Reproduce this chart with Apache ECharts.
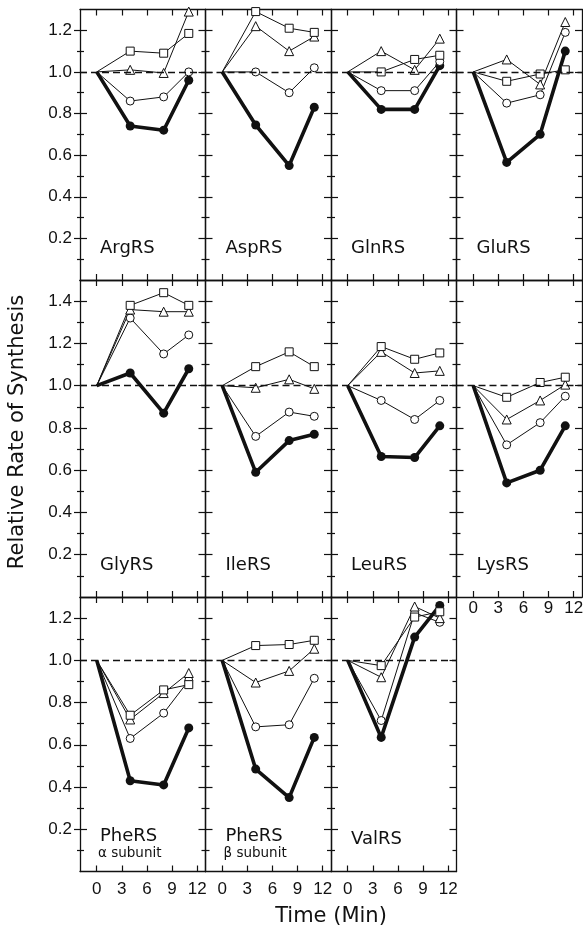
<!DOCTYPE html>
<html>
<head>
<meta charset="utf-8">
<script src="https://cdn.jsdelivr.net/npm/echarts@6/dist/echarts.min.js"></script>
<style>
    html, body { margin: 0; padding: 0; background: #fff; }
    #chart { width: 583px; height: 928px; }
</style>
</head>
<body>
<div id="chart"></div>
<script>
// sampling times (min), same for every panel
const times = [0, 4, 8, 11];
const panels = ['ArgRS', 'AspRS', 'GlnRS', 'GluRS', 'GlyRS', 'IleRS', 'LeuRS', 'LysRS', 'PheRS', 'PheRS', 'ValRS'];
const subLabels = ['', '', '', '', '', '', '', '', 'α subunit', 'β subunit', ''];

// one row per panel, values at the sampling times
const filledCircle = [
    [1.00, 0.74, 0.72, 0.96],
    [1.00, 0.745, 0.55, 0.83],
    [1.00, 0.82, 0.82, 1.03],
    [1.00, 0.565, 0.70, 1.10],
    [1.00, 1.06, 0.87, 1.08],
    [1.00, 0.59, 0.74, 0.77],
    [1.00, 0.665, 0.66, 0.81],
    [1.00, 0.54, 0.60, 0.81],
    [1.00, 0.43, 0.41, 0.68],
    [1.00, 0.485, 0.35, 0.635],
    [1.00, 0.635, 1.11, 1.26]
];
const openCircle = [
    [1.00, 0.86, 0.88, 1.00],
    [1.00, 1.00, 0.90, 1.02],
    [1.00, 0.91, 0.91, 1.05],
    [1.00, 0.85, 0.89, 1.19],
    [1.00, 1.32, 1.15, 1.24],
    [1.00, 0.76, 0.875, 0.855],
    [1.00, 0.93, 0.84, 0.93],
    [1.00, 0.72, 0.825, 0.95],
    [1.00, 0.63, 0.75, 0.905],
    [1.00, 0.685, 0.695, 0.915],
    [1.00, 0.715, 1.225, 1.18]
];
const openTriangle = [
    [1.00, 1.01, 0.995, 1.29],
    [1.00, 1.22, 1.10, 1.17],
    [1.00, 1.10, 1.01, 1.16],
    [1.00, 1.06, 0.94, 1.24],
    [1.00, 1.36, 1.35, 1.35],
    [1.00, 0.99, 1.03, 0.985],
    [1.00, 1.16, 1.06, 1.07],
    [1.00, 0.84, 0.93, 1.005],
    [1.00, 0.72, 0.845, 0.94],
    [1.00, 0.895, 0.95, 1.055],
    [1.00, 0.92, 1.255, 1.20]
];
const openSquare = [
    [1.00, 1.10, 1.09, 1.185],
    [1.00, 1.29, 1.21, 1.19],
    [1.00, 1.00, 1.06, 1.08],
    [1.00, 0.955, 0.99, 1.01],
    [1.00, 1.38, 1.44, 1.38],
    [1.00, 1.09, 1.16, 1.09],
    [1.00, 1.185, 1.125, 1.155],
    [1.00, 0.945, 1.015, 1.04],
    [1.00, 0.74, 0.86, 0.885],
    [1.00, 1.07, 1.075, 1.095],
    [1.00, 0.975, 1.205, 1.23]
];

const xTicks = [0, 3, 6, 9, 12];
const yMajorTicks = [0.2, 0.4, 0.6, 0.8, 1.0, 1.2, 1.4];
const yMinorTicks = [0.1, 0.3, 0.5, 0.7, 0.9, 1.1, 1.3];

// layout
const colLefts = [80, 205.5, 331, 456.5];
const colWidth = 125.5;
const rowTops = [9.5, 280, 597];
const rowBottoms = [280, 597, 871.5];
const rowMax = [1.3, 1.5, 1.3];
const INK = '#111';

const chart = echarts.init(document.getElementById('chart'));

let grids = [], xAxes = [], yAxes = [], series = [], graphics = [];

function xAxisDef(gi, pos, showLabel, labelMargin) {
    return {
        type: 'value', gridIndex: gi, position: pos, min: -2, max: 13,
        axisLine: { show: true, onZero: false, lineStyle: { color: INK, width: 1.3 } },
        axisTick: { show: true, inside: true, length: 6, customValues: xTicks, lineStyle: { color: INK, width: 1.2 } },
        axisLabel: {
            show: showLabel, customValues: xTicks, margin: labelMargin,
            color: INK, fontSize: 17, fontFamily: 'Liberation Sans'
        },
        splitLine: { show: false }
    }
}

function yAxisDef(gi, row, pos, inside, len, vals, showLine, showLabel) {
    return {
        type: 'value', gridIndex: gi, position: pos, min: 0, max: rowMax[row],
        axisLine: { show: showLine, onZero: false, lineStyle: { color: INK, width: 1.3 } },
        axisTick: { show: true, inside: inside, length: len, customValues: vals.filter(v => v < rowMax[row] - 0.05), lineStyle: { color: INK, width: 1.2 } },
        axisLabel: {
            show: showLabel, customValues: yMajorTicks.filter(v => v < rowMax[row] - 0.05), margin: 8,
            color: INK, fontSize: 17, fontFamily: 'Liberation Sans',
            formatter: v => v.toFixed(1)
        },
        splitLine: { show: false }
    }
}

function pts(vals) {
    return vals.map((v, k) => k === 0 ? { value: [times[k], v], symbol: 'none' } : [times[k], v])
}

panels.forEach((name, i) => {
    const row = Math.floor(i / 4), col = i % 4;
    const top = rowTops[row], bottom = rowBottoms[row];
    grids.push({ left: colLefts[col], top: top, width: colWidth, height: bottom - top, outerBoundsMode: 'none' });

    const xi = xAxes.length;
    const showX = row === 2 || i === 7;
    xAxes.push(xAxisDef(i, 'bottom', showX, i === 7 ? 3 : 9));
    xAxes.push(xAxisDef(i, 'top', false, 8));

    const yi = yAxes.length;
    yAxes.push(yAxisDef(i, row, 'left', true, 7, yMajorTicks, true, false));
    yAxes.push(yAxisDef(i, row, 'left', true, 4, yMinorTicks, false, false));
    yAxes.push(yAxisDef(i, row, 'right', true, 7, yMajorTicks, true, false));
    yAxes.push(yAxisDef(i, row, 'right', true, 4, yMinorTicks, false, false));
    if (col === 0) {
        // outer left edge: ticks cross the border, labels live here
        yAxes.push(yAxisDef(i, row, 'left', false, 6, yMajorTicks, false, true));
        yAxes.push(yAxisDef(i, row, 'left', false, 3, yMinorTicks, false, false));
    }

    series.push({
        type: 'line', xAxisIndex: xi, yAxisIndex: yi, data: pts(filledCircle[i]),
        symbol: 'circle', symbolSize: 9, showSymbol: true,
        lineStyle: { color: INK, width: 3.6 },
        itemStyle: { color: INK, borderColor: INK, borderWidth: 0 },
        animation: false, silent: true,
        markLine: {
            silent: true, symbol: 'none', label: { show: false }, animation: false,
            lineStyle: { color: INK, width: 1.3, type: [7, 4] },
            data: [{ yAxis: 1.0 }]
        }
    });
    [[openCircle, 'circle', 8], [openTriangle, 'triangle', 9], [openSquare, 'rect', 8]].forEach(([arr, sym, sz]) => {
        series.push({
            type: 'line', xAxisIndex: xi, yAxisIndex: yi, data: pts(arr[i]),
            symbol: sym, symbolSize: sz, showSymbol: true,
            lineStyle: { color: INK, width: 1 },
            itemStyle: { color: '#fff', borderColor: INK, borderWidth: 1 },
            animation: false, silent: true
        });
    });

    // panel name in the lower left corner
    const lblY = subLabels[i] ? bottom - 35 : bottom - 32;
    graphics.push({
        type: 'text', x: colLefts[col] + 20, y: lblY,
        style: { text: name, font: '18px "DejaVu Sans"', fill: INK, align: 'left', verticalAlign: 'middle' }
    });
    if (subLabels[i]) {
        graphics.push({
            type: 'text', x: colLefts[col] + 18, y: bottom - 18,
            style: { text: subLabels[i], font: '13.5px "DejaVu Sans"', fill: INK, align: 'left', verticalAlign: 'middle' }
        });
    }
});

graphics.push({
    type: 'text', x: 18, y: 432, rotation: Math.PI / 2,
    style: { text: 'Relative Rate of Synthesis', font: '21px "DejaVu Sans"', fill: INK, align: 'center', verticalAlign: 'middle' }
});
graphics.push({
    type: 'text', x: 331, y: 917,
    style: { text: 'Time (Min)', font: '21px "DejaVu Sans"', fill: INK, align: 'center', verticalAlign: 'middle' }
});

chart.setOption({
    backgroundColor: '#fff',
    animation: false,
    grid: grids,
    xAxis: xAxes,
    yAxis: yAxes,
    series: series,
    graphic: graphics
});
</script>
</body>
</html>
